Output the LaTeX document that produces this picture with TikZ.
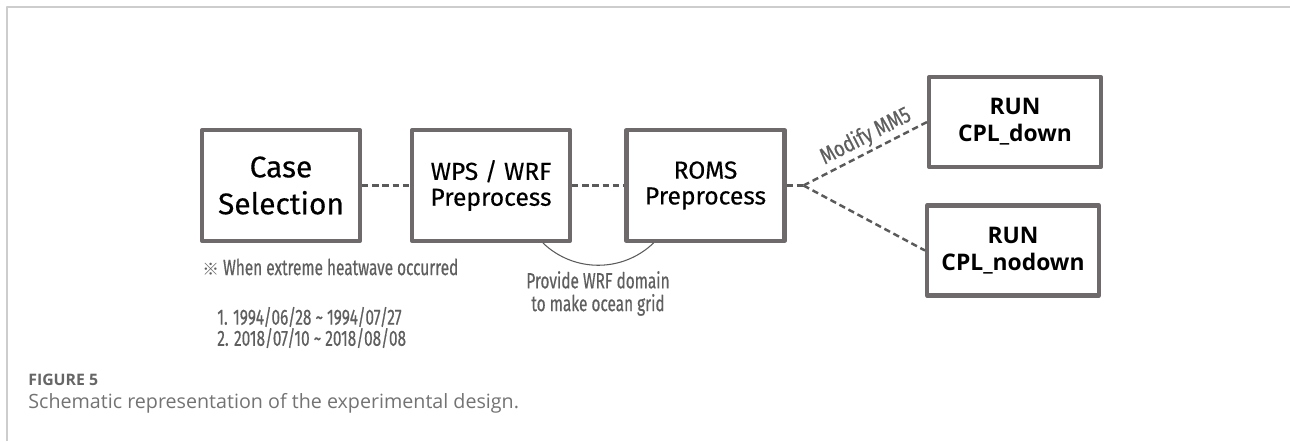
\documentclass[tikz,border=0pt]{standalone}
\usepackage{fontspec}
\setmainfont{Fira Sans}
\newfontfamily\boxfont[FakeBold=0.35]{Fira Sans}
\newfontfamily\condfont[FakeStretch=0.7,FakeBold=0.5]{Fira Sans}
\newfontfamily\slantfont[FakeStretch=0.8,FakeBold=0.5]{Fira Sans}
\newfontfamily\capfont{Open Sans}
\newfontfamily\markfont{Noto Sans CJK KR}
\usetikzlibrary{calc,positioning}
\definecolor{boxgray}{RGB}{110,105,106}
\definecolor{linegray}{RGB}{90,90,90}
\definecolor{txtgray}{RGB}{95,95,95}
\definecolor{framegray}{RGB}{205,205,205}

\begin{document}
\begin{tikzpicture}[line join=round,
	box/.style={draw=boxgray, line width=2.3pt, fill=white, minimum width=3.16cm, minimum height=2.22cm, align=center, inner sep=2pt},
	runbox/.style={box, minimum width=3.44cm, minimum height=1.80cm, font=\capfont\bfseries\fontsize{13}{15.5}\selectfont},
	link/.style={draw=linegray, line width=1.4pt, dash pattern=on 3.6pt off 2.2pt},
	note/.style={text=txtgray, font=\condfont\fontsize{12.5}{13}\selectfont, inner sep=0pt}]
	\useasboundingbox (0,0) rectangle (25.8,-8.82);
	\draw[framegray, line width=1pt] (0.14,-8.82) -- (0.14,-0.14) -- (25.8,-0.14);
	\node[box, font=\boxfont\fontsize{17}{21}\selectfont] (case) at (5.62,-3.71) {Case\\Selection};
	\node[box, font=\boxfont\fontsize{14}{14.7}\selectfont] (wps) at (9.82,-3.71) {WPS / WRF\\Preprocess};
	\node[box, font=\boxfont\fontsize{14}{14.7}\selectfont] (roms) at (14.11,-3.71) {ROMS\\Preprocess};
	\node[runbox] (down) at (20.30,-2.44) {RUN\\CPL\_down};
	\node[runbox] (nodown) at (20.26,-5.01) {RUN\\CPL\_nodown};
	\coordinate (fork) at ($(roms.east)+(0.34,0)$);
	\coordinate (mid) at ($(wps.east)!0.5!(roms.west)$);
	\draw[link] (case) -- (wps);
	\draw[link] (wps) -- (roms);
	\draw[link] (roms.east) -- (fork);
	\draw[link] (fork) -- node[pos=0.56, sloped, above=1.5pt, note, font=\slantfont\fontsize{13}{14}\selectfont] (mm5) {Modify MM5} (down.west);
	\draw[link] (fork) -- (nodown.west);
	\draw[linegray, line width=0.6pt] ($(mid)+(226:1.595)$) arc[start angle=226, end angle=314, radius=1.595];
	\node[note, anchor=west] (when) at (4.04,-5.34) {{\markfont\fontsize{9.5}{10}\selectfont ※} When extreme heatwave occurred};
	\node[note, anchor=west, align=left, font=\condfont\fontsize{12.5}{12}\selectfont] (dates) at (4.34,-6.55) {1. 1994/06/28 \textasciitilde{} 1994/07/27\\2. 2018/07/10 \textasciitilde{} 2018/08/08};
	\node[note, align=center] (provide) at (11.96,-5.87) {Provide WRF domain\\to make ocean grid};
	\node[anchor=west, inner sep=0pt, text=black!60, font=\capfont\bfseries\fontsize{9}{10}\selectfont] (fig) at (0.56,-7.60) {FIGURE 5};
	\node[anchor=west, inner sep=0pt, text=black!55, font=\capfont\fontsize{11.2}{13}\selectfont] (caption) at (0.56,-8.06) {Schematic representation of the experimental design.};
\end{tikzpicture}
\end{document}
